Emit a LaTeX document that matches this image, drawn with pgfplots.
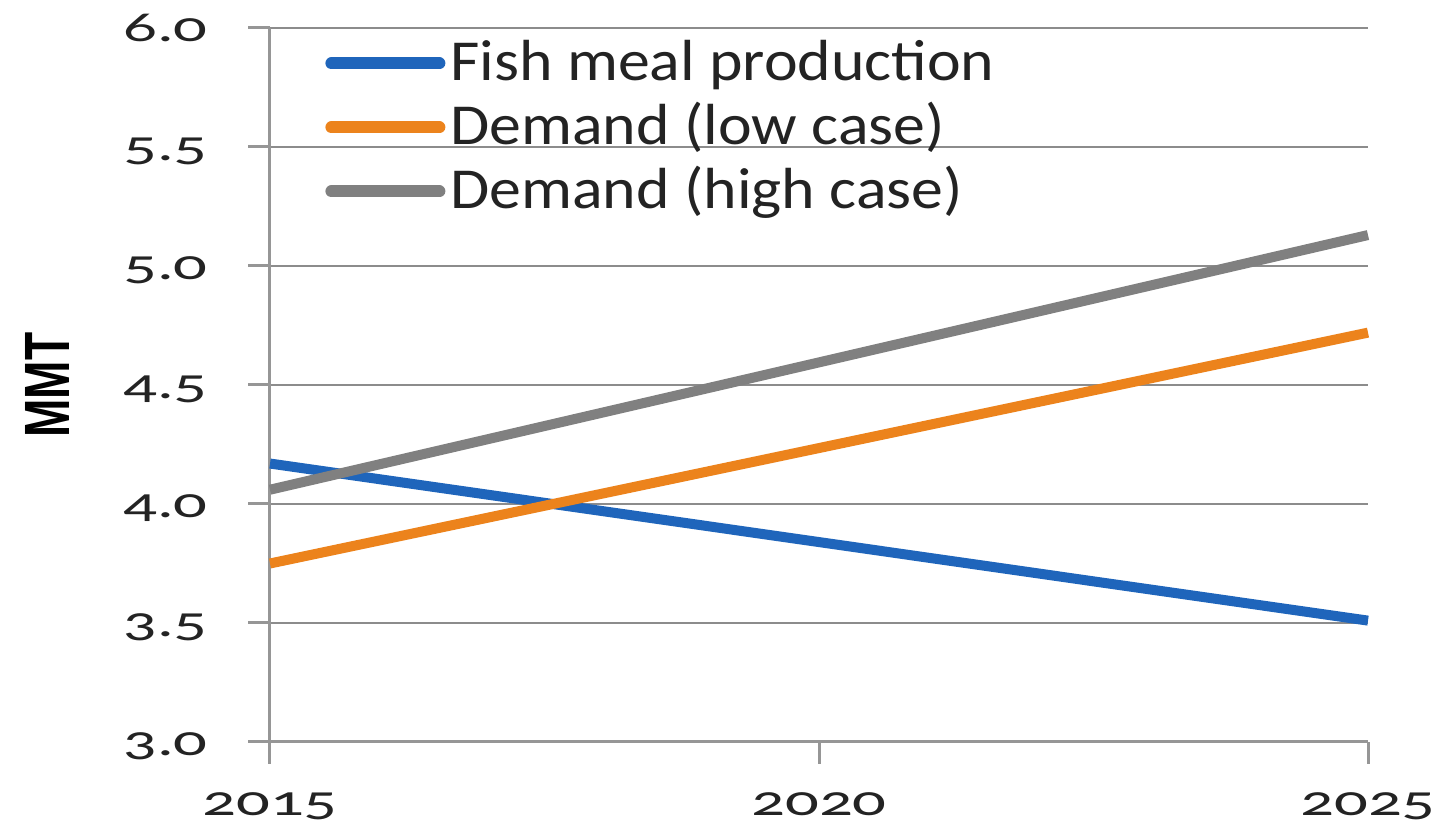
\documentclass[border=0pt]{standalone}
\usepackage{fontspec}
\setmainfont{Carlito}
\newfontfamily\tickfont{Carlito}[Numbers=OldStyle,FakeStretch=1.55]
\newfontfamily\legfont{Carlito}[FakeStretch=1.1]
\newfontfamily\labfont{Liberation Sans}[FakeStretch=0.72]
\usepackage{pgfplots}
\pgfplotsset{compat=1.18}
\definecolor{cblue}{RGB}{31,101,187}
\definecolor{corange}{RGB}{236,131,28}
\definecolor{cgray}{RGB}{128,128,128}
\definecolor{gridgray}{RGB}{140,140,140}
\definecolor{axgray}{RGB}{150,150,150}
\definecolor{txt}{RGB}{35,35,35}
\begin{document}
\begin{tikzpicture}
\useasboundingbox (-135pt,-43pt) rectangle (591pt,371pt);
\begin{axis}[
  at={(0pt,0pt)}, anchor=south west,
  scale only axis, width=549pt, height=357pt,
  xmin=2015, xmax=2025, ymin=3, ymax=6,
  clip=false,
  axis lines=left,
  axis line style={-, draw=axgray, line width=1.5pt},
  xtick={2015,2020,2025},
  ytick={3,3.5,4,4.5,5,5.5,6},
  ymajorgrids,
  grid style={gridgray, line width=1pt},
  tick align=outside,
  major tick length=11pt,
  tick style={axgray, line width=1.5pt},
  /pgf/number format/assume math mode=true,
  xticklabel style={font=\tickfont\fontsize{21.5}{24}\selectfont, text=txt,
     /pgf/number format/1000 sep={}, anchor=base, inner sep=0pt, yshift=-26pt},
  yticklabel style={font=\tickfont\fontsize{21.5}{24}\selectfont, text=txt,
     /pgf/number format/fixed, /pgf/number format/fixed zerofill,
     /pgf/number format/precision=1, anchor=base east, inner sep=0pt,
     xshift=-20pt, yshift=-7pt},
  ylabel={MMT},
  every axis y label/.style={at={(axis description cs:0,0.5)}, xshift=-111.5pt,
     rotate=90, anchor=center, font=\labfont\bfseries\fontsize{32}{36}\selectfont},
  legend style={at={(axis description cs:0,1)}, anchor=north west,
     xshift=27.5pt, yshift=-5pt, draw=none, fill=none, inner sep=0pt,
     font=\legfont\fontsize{29}{32}\selectfont, text=txt, row sep=4pt,
     nodes={inner sep=0pt, text height=21pt, text depth=7pt},
     /tikz/every odd column/.append style={column sep=2.5pt}},
  legend cell align=left,
  legend image code/.code={\draw[#1, line width=6pt, line cap=round] (0pt,1.5pt) -- (54pt,1.5pt);},
]
\addplot[cblue, line width=5pt] coordinates {(2015,4.17) (2025,3.51)};
\addlegendentry{Fish meal production}
\addplot[corange, line width=5pt] coordinates {(2015,3.75) (2025,4.72)};
\addlegendentry{Demand (low case)}
\addplot[cgray, line width=5pt] coordinates {(2015,4.06) (2025,5.13)};
\addlegendentry{Demand (high case)}
\end{axis}
\end{tikzpicture}
\end{document}
